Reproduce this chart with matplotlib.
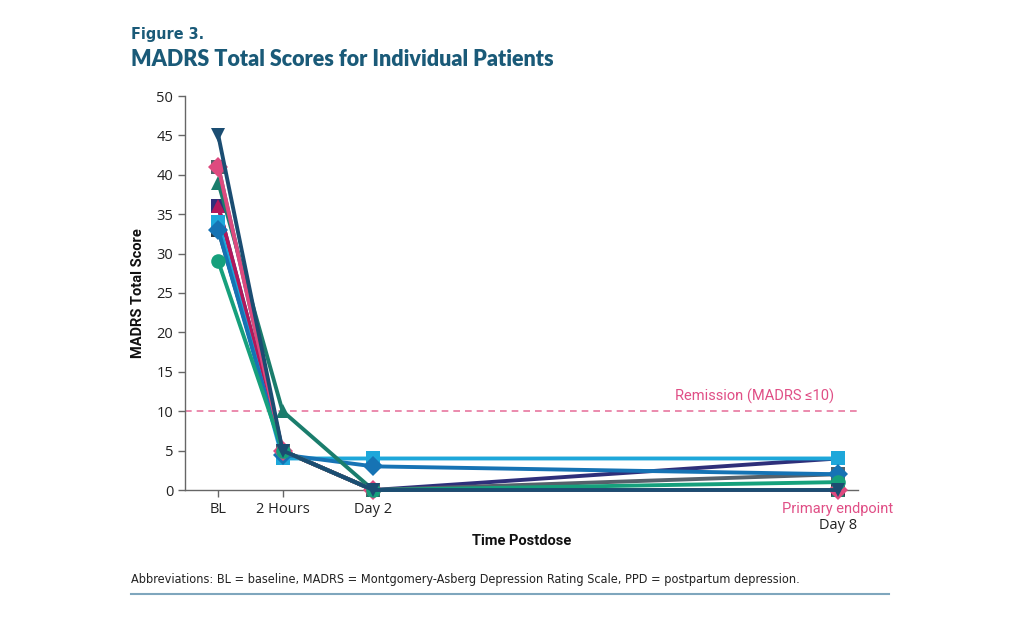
import matplotlib
matplotlib.use("Agg")
import matplotlib.pyplot as plt

# ---- data ----
timepoints = ["BL", "2 Hours", "Day 2", "Day 8"]
time_pos = [0, 0.83, 2, 8]

patients = ["P1", "P2", "P3", "P4", "P5", "P6", "P7", "P8", "P9", "P10"]
scores = [
    [33, 5, 0, 0],    # P1 black square
    [36, 5, 0, 4],    # P2 indigo square
    [41, 5, 0, 2],    # P3 gray square
    [36, 5, 0, 0],    # P4 crimson triangle
    [34, 4, 4, 4],    # P5 light blue square
    [33, 4.5, 3, 2],  # P6 blue diamond
    [39, 10, 0, 0],   # P7 teal triangle
    [41, 5, 0, 0],    # P8 pink diamond
    [29, 5, 0, 1],    # P9 green circle
    [45, 5, 0, 0],    # P10 navy down-triangle
]
colors = ["#2a3a44", "#2e2f7a", "#55616b", "#b3185b", "#1ea7da",
          "#1673b4", "#1a7d6c", "#de4a7f", "#16a07c", "#1b4d72"]
markers = ["s", "s", "s", "^", "s", "D", "^", "D", "o", "v"]

remission = 10
yticks = list(range(0, 51, 5))

fig = plt.figure(figsize=(10.24, 6.3), dpi=100)
ax = fig.add_axes([185/1024, 1-490/630, (858-185)/1024, (490-96)/630])

for name, s, c, m in zip(patients, scores, colors, markers):
    ax.plot(time_pos, s, color=c, lw=2.8, marker=m, ms=10.5,
            markeredgewidth=0, clip_on=False, zorder=3)

ax.axhline(remission, color="#e8779f", lw=1.2, ls=(0, (4, 3)), zorder=1)
ax.text(7.95, remission + 0.9, "Remission (MADRS \u226410)", color="#e04f86",
        fontsize=10.5, ha="right", va="bottom", family="Roboto")

ax.set_xlim(-0.43, 8.26)
ax.set_ylim(0, 50)
ax.set_yticks(yticks)
ax.set_xticks(time_pos)
ax.set_xticklabels(["BL", "2 Hours", "Day 2", ""])
for sp in ["top", "right"]:
    ax.spines[sp].set_visible(False)
for sp in ["left", "bottom"]:
    ax.spines[sp].set_color("#666666")
    ax.spines[sp].set_linewidth(1.0)
ax.tick_params(axis="both", colors="#666666", labelcolor="#222222",
               labelsize=10.5, length=5, width=1)
for lab in ax.get_xticklabels() + ax.get_yticklabels():
    lab.set_family("Open Sans")

ax.text(8, -2.45, "Primary endpoint", color="#e04f86", fontsize=10.5,
        ha="center", va="center", family="Roboto")
ax.text(8, -4.5, "Day 8", color="#222222", fontsize=10.5,
        ha="center", va="center", family="Open Sans")

ax.set_ylabel("MADRS Total Score", fontsize=10.5, fontweight="bold",
              family="Roboto", color="#111111", labelpad=8)
fig.text(522/1024, 1-541/630, "Time Postdose", fontsize=10.5, fontweight="bold",
         family="Roboto", color="#111111", ha="center", va="center")

fig.text(131/1024, 1-34/630, "Figure 3.", fontsize=11.5, color="#1a5a78",
         family="DejaVu Sans", fontstretch="condensed", fontweight="bold",
         va="center")
fig.text(131/1024, 1-59/630, "MADRS Total Scores for Individual Patients",
         fontsize=15.5, color="#1a5a78", family="Lato", fontweight="heavy",
         va="center")

fig.text(131/1024, 1-580/630,
         "Abbreviations: BL = baseline, MADRS = Montgomery-Asberg Depression Rating Scale, PPD = postpartum depression.",
         fontsize=9.1, color="#222222", family="DejaVu Sans", fontstretch="condensed",
         va="center")
fig.add_artist(plt.Line2D([131/1024, 889/1024], [1-594/630, 1-594/630],
                          color="#7fa6bd", lw=1.5))

fig.savefig("out.png", dpi=100)
